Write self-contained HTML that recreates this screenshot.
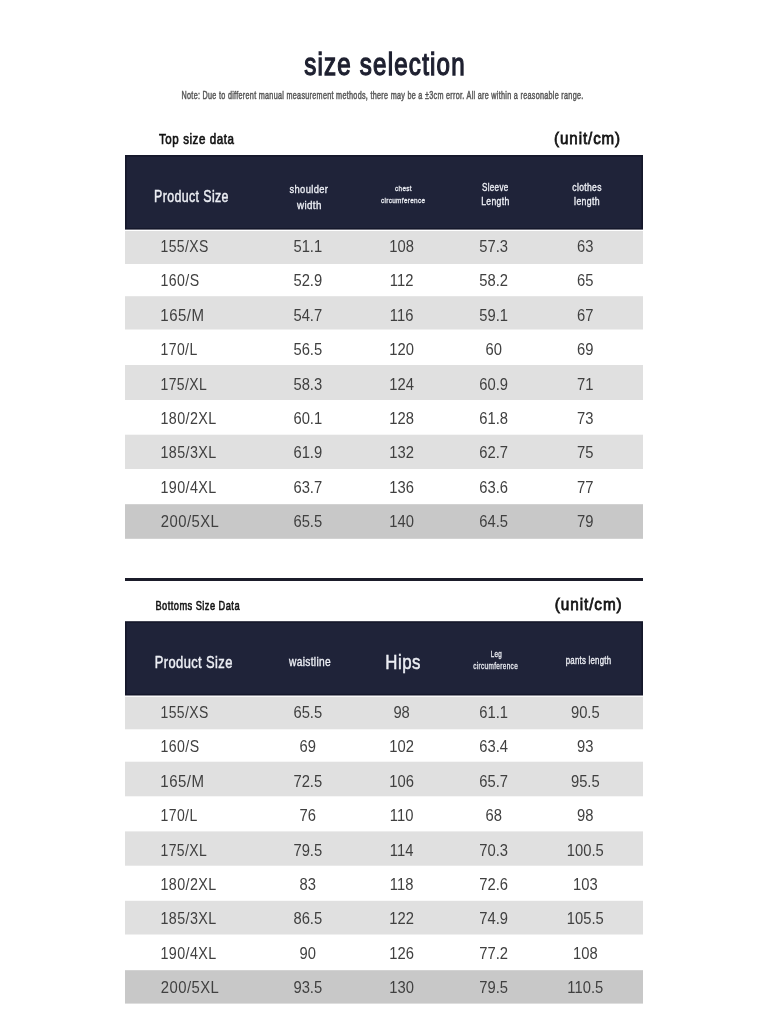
<!DOCTYPE html><html><head><meta charset="utf-8"><style>html,body{margin:0;padding:0;background:#fff;width:768px;height:1024px;overflow:hidden}svg{display:block;will-change:transform}text{font-family:"Liberation Sans",sans-serif}</style></head><body>
<svg width="768" height="1024" viewBox="0 0 768 1024">
<rect x="0" y="0" width="768" height="1024" fill="#ffffff"/>
<rect x="125" y="155.00" width="518.00" height="74.60" fill="#14172a"/>
<rect x="126.6" y="156.60" width="514.80" height="71.40" fill="#1f2339"/>
<rect x="125" y="231.00" width="518.00" height="33.00" fill="#e0e0e0"/>
<rect x="125" y="296.20" width="518.00" height="33.30" fill="#e0e0e0"/>
<rect x="125" y="365.00" width="518.00" height="35.00" fill="#e0e0e0"/>
<rect x="125" y="434.70" width="518.00" height="34.30" fill="#e0e0e0"/>
<rect x="125" y="504.20" width="518.00" height="34.60" fill="#c8c8c8"/>
<rect x="125" y="578.00" width="518.00" height="3.00" fill="#1b1c2a"/>
<rect x="125" y="621.20" width="518.00" height="74.30" fill="#14172a"/>
<rect x="126.6" y="622.80" width="514.80" height="71.10" fill="#1f2339"/>
<rect x="125" y="696.80" width="518.00" height="32.50" fill="#e0e0e0"/>
<rect x="125" y="761.70" width="518.00" height="34.60" fill="#e0e0e0"/>
<rect x="125" y="831.40" width="518.00" height="34.30" fill="#e0e0e0"/>
<rect x="125" y="900.80" width="518.00" height="33.70" fill="#e0e0e0"/>
<rect x="125" y="970.20" width="518.00" height="33.40" fill="#c8c8c8"/>
<text transform="translate(304.17,75.03) scale(0.7862,1)" font-size="30.69" fill="#1e2030" stroke="#1e2030" stroke-width="1.350" letter-spacing="1.534">size selection</text>
<text transform="translate(181.55,98.78) scale(0.6946,1)" font-size="10.41" fill="#555555" stroke="#555555" stroke-width="0.450" letter-spacing="0.417">Note: Due to different manual measurement methods, there may be a ±3cm error. All are within a reasonable range.</text>
<text transform="translate(159.02,143.85) scale(0.7975,1)" font-size="14.48" fill="#141414" stroke="#141414" stroke-width="0.700" letter-spacing="0.724">Top size data</text>
<text transform="translate(554.09,143.96) scale(0.8730,1)" font-size="17.33" fill="#141414" stroke="#141414" stroke-width="0.800" letter-spacing="1.040">(unit/cm)</text>
<text transform="translate(154.03,202.08) scale(0.7603,1)" font-size="16.34" fill="#eceef4" stroke="#eceef4" stroke-width="0.450" letter-spacing="0.490">Product Size</text>
<text transform="translate(289.44,193.22) scale(0.8221,1)" font-size="11.38" fill="#eceef4" stroke="#eceef4" stroke-width="0.350" letter-spacing="0.455">shoulder</text>
<text transform="translate(297.02,208.82) scale(0.9034,1)" font-size="10.83" fill="#eceef4" stroke="#eceef4" stroke-width="0.350" letter-spacing="0.433">width</text>
<text transform="translate(395.10,191.15) scale(0.8233,1)" font-size="7.72" fill="#eceef4" stroke="#eceef4" stroke-width="0.300" letter-spacing="0.386">chest</text>
<text transform="translate(380.99,202.65) scale(0.8086,1)" font-size="7.93" fill="#eceef4" stroke="#eceef4" stroke-width="0.300" letter-spacing="0.397">circumference</text>
<text transform="translate(481.91,191.42) scale(0.7871,1)" font-size="10.28" fill="#eceef4" stroke="#eceef4" stroke-width="0.350" letter-spacing="0.411">Sleeve</text>
<text transform="translate(481.18,205.12) scale(0.8413,1)" font-size="10.28" fill="#eceef4" stroke="#eceef4" stroke-width="0.350" letter-spacing="0.411">Length</text>
<text transform="translate(572.33,191.42) scale(0.8335,1)" font-size="10.28" fill="#eceef4" stroke="#eceef4" stroke-width="0.350" letter-spacing="0.411">clothes</text>
<text transform="translate(574.11,205.12) scale(0.8502,1)" font-size="10.28" fill="#eceef4" stroke="#eceef4" stroke-width="0.350" letter-spacing="0.411">length</text>
<text transform="translate(155.46,609.70) scale(0.7387,1)" font-size="12.55" fill="#141414" stroke="#141414" stroke-width="0.600" letter-spacing="0.628">Bottoms Size Data</text>
<text transform="translate(554.78,610.38) scale(0.8900,1)" font-size="17.22" fill="#141414" stroke="#141414" stroke-width="0.800" letter-spacing="1.033">(unit/cm)</text>
<text transform="translate(154.79,668.17) scale(0.8192,1)" font-size="15.79" fill="#eceef4" stroke="#eceef4" stroke-width="0.450" letter-spacing="0.474">Product Size</text>
<text transform="translate(289.03,665.93) scale(0.8560,1)" font-size="11.93" fill="#eceef4" stroke="#eceef4" stroke-width="0.350" letter-spacing="0.358">waistline</text>
<text transform="translate(385.30,668.55) scale(0.8093,1)" font-size="20.83" fill="#eceef4" stroke="#eceef4" stroke-width="0.500" letter-spacing="0.625">Hips</text>
<text transform="translate(490.65,657.05) scale(0.7208,1)" font-size="8.70" fill="#eceef4" stroke="#eceef4" stroke-width="0.300" letter-spacing="0.435">Leg</text>
<text transform="translate(473.19,668.85) scale(0.6767,1)" font-size="9.59" fill="#eceef4" stroke="#eceef4" stroke-width="0.300" letter-spacing="0.479">circumference</text>
<text transform="translate(565.70,663.62) scale(0.7545,1)" font-size="10.41" fill="#eceef4" stroke="#eceef4" stroke-width="0.350" letter-spacing="0.312">pants length</text>
<text transform="translate(160.45,252.00) scale(0.8789,1)" font-size="15.9" fill="#404040" letter-spacing="0.477">155/XS</text>
<text transform="translate(307.80,252.00) scale(0.93,1)" font-size="15.9" fill="#404040" text-anchor="middle">51.1</text>
<text transform="translate(401.60,252.00) scale(0.93,1)" font-size="15.9" fill="#404040" text-anchor="middle">108</text>
<text transform="translate(493.70,252.00) scale(0.93,1)" font-size="15.9" fill="#404040" text-anchor="middle">57.3</text>
<text transform="translate(585.30,252.00) scale(0.93,1)" font-size="15.9" fill="#404040" text-anchor="middle">63</text>
<text transform="translate(160.44,286.38) scale(0.8894,1)" font-size="15.9" fill="#404040" letter-spacing="0.477">160/S</text>
<text transform="translate(307.80,286.38) scale(0.93,1)" font-size="15.9" fill="#404040" text-anchor="middle">52.9</text>
<text transform="translate(401.60,286.38) scale(0.93,1)" font-size="15.9" fill="#404040" text-anchor="middle">112</text>
<text transform="translate(493.70,286.38) scale(0.93,1)" font-size="15.9" fill="#404040" text-anchor="middle">58.2</text>
<text transform="translate(585.30,286.38) scale(0.93,1)" font-size="15.9" fill="#404040" text-anchor="middle">65</text>
<text transform="translate(160.37,320.75) scale(0.9458,1)" font-size="15.9" fill="#404040" letter-spacing="0.477">165/M</text>
<text transform="translate(307.80,320.75) scale(0.93,1)" font-size="15.9" fill="#404040" text-anchor="middle">54.7</text>
<text transform="translate(401.60,320.75) scale(0.93,1)" font-size="15.9" fill="#404040" text-anchor="middle">116</text>
<text transform="translate(493.70,320.75) scale(0.93,1)" font-size="15.9" fill="#404040" text-anchor="middle">59.1</text>
<text transform="translate(585.30,320.75) scale(0.93,1)" font-size="15.9" fill="#404040" text-anchor="middle">67</text>
<text transform="translate(160.45,355.12) scale(0.8823,1)" font-size="15.9" fill="#404040" letter-spacing="0.477">170/L</text>
<text transform="translate(307.80,355.12) scale(0.93,1)" font-size="15.9" fill="#404040" text-anchor="middle">56.5</text>
<text transform="translate(401.60,355.12) scale(0.93,1)" font-size="15.9" fill="#404040" text-anchor="middle">120</text>
<text transform="translate(493.70,355.12) scale(0.93,1)" font-size="15.9" fill="#404040" text-anchor="middle">60</text>
<text transform="translate(585.30,355.12) scale(0.93,1)" font-size="15.9" fill="#404040" text-anchor="middle">69</text>
<text transform="translate(160.45,389.50) scale(0.8788,1)" font-size="15.9" fill="#404040" letter-spacing="0.477">175/XL</text>
<text transform="translate(307.80,389.50) scale(0.93,1)" font-size="15.9" fill="#404040" text-anchor="middle">58.3</text>
<text transform="translate(401.60,389.50) scale(0.93,1)" font-size="15.9" fill="#404040" text-anchor="middle">124</text>
<text transform="translate(493.70,389.50) scale(0.93,1)" font-size="15.9" fill="#404040" text-anchor="middle">60.9</text>
<text transform="translate(585.30,389.50) scale(0.93,1)" font-size="15.9" fill="#404040" text-anchor="middle">71</text>
<text transform="translate(160.43,423.88) scale(0.9005,1)" font-size="15.9" fill="#404040" letter-spacing="0.477">180/2XL</text>
<text transform="translate(307.80,423.88) scale(0.93,1)" font-size="15.9" fill="#404040" text-anchor="middle">60.1</text>
<text transform="translate(401.60,423.88) scale(0.93,1)" font-size="15.9" fill="#404040" text-anchor="middle">128</text>
<text transform="translate(493.70,423.88) scale(0.93,1)" font-size="15.9" fill="#404040" text-anchor="middle">61.8</text>
<text transform="translate(585.30,423.88) scale(0.93,1)" font-size="15.9" fill="#404040" text-anchor="middle">73</text>
<text transform="translate(160.43,458.25) scale(0.9005,1)" font-size="15.9" fill="#404040" letter-spacing="0.477">185/3XL</text>
<text transform="translate(307.80,458.25) scale(0.93,1)" font-size="15.9" fill="#404040" text-anchor="middle">61.9</text>
<text transform="translate(401.60,458.25) scale(0.93,1)" font-size="15.9" fill="#404040" text-anchor="middle">132</text>
<text transform="translate(493.70,458.25) scale(0.93,1)" font-size="15.9" fill="#404040" text-anchor="middle">62.7</text>
<text transform="translate(585.30,458.25) scale(0.93,1)" font-size="15.9" fill="#404040" text-anchor="middle">75</text>
<text transform="translate(160.43,492.62) scale(0.9005,1)" font-size="15.9" fill="#404040" letter-spacing="0.477">190/4XL</text>
<text transform="translate(307.80,492.62) scale(0.93,1)" font-size="15.9" fill="#404040" text-anchor="middle">63.7</text>
<text transform="translate(401.60,492.62) scale(0.93,1)" font-size="15.9" fill="#404040" text-anchor="middle">136</text>
<text transform="translate(493.70,492.62) scale(0.93,1)" font-size="15.9" fill="#404040" text-anchor="middle">63.6</text>
<text transform="translate(585.30,492.62) scale(0.93,1)" font-size="15.9" fill="#404040" text-anchor="middle">77</text>
<text transform="translate(160.76,527.00) scale(0.9357,1)" font-size="15.9" fill="#404040" letter-spacing="0.477">200/5XL</text>
<text transform="translate(307.80,527.00) scale(0.93,1)" font-size="15.9" fill="#404040" text-anchor="middle">65.5</text>
<text transform="translate(401.60,527.00) scale(0.93,1)" font-size="15.9" fill="#404040" text-anchor="middle">140</text>
<text transform="translate(493.70,527.00) scale(0.93,1)" font-size="15.9" fill="#404040" text-anchor="middle">64.5</text>
<text transform="translate(585.30,527.00) scale(0.93,1)" font-size="15.9" fill="#404040" text-anchor="middle">79</text>
<text transform="translate(160.45,717.90) scale(0.8789,1)" font-size="15.9" fill="#404040" letter-spacing="0.477">155/XS</text>
<text transform="translate(307.80,717.90) scale(0.93,1)" font-size="15.9" fill="#404040" text-anchor="middle">65.5</text>
<text transform="translate(401.60,717.90) scale(0.93,1)" font-size="15.9" fill="#404040" text-anchor="middle">98</text>
<text transform="translate(493.70,717.90) scale(0.93,1)" font-size="15.9" fill="#404040" text-anchor="middle">61.1</text>
<text transform="translate(585.30,717.90) scale(0.93,1)" font-size="15.9" fill="#404040" text-anchor="middle">90.5</text>
<text transform="translate(160.44,752.32) scale(0.8894,1)" font-size="15.9" fill="#404040" letter-spacing="0.477">160/S</text>
<text transform="translate(307.80,752.32) scale(0.93,1)" font-size="15.9" fill="#404040" text-anchor="middle">69</text>
<text transform="translate(401.60,752.32) scale(0.93,1)" font-size="15.9" fill="#404040" text-anchor="middle">102</text>
<text transform="translate(493.70,752.32) scale(0.93,1)" font-size="15.9" fill="#404040" text-anchor="middle">63.4</text>
<text transform="translate(585.30,752.32) scale(0.93,1)" font-size="15.9" fill="#404040" text-anchor="middle">93</text>
<text transform="translate(160.37,786.75) scale(0.9458,1)" font-size="15.9" fill="#404040" letter-spacing="0.477">165/M</text>
<text transform="translate(307.80,786.75) scale(0.93,1)" font-size="15.9" fill="#404040" text-anchor="middle">72.5</text>
<text transform="translate(401.60,786.75) scale(0.93,1)" font-size="15.9" fill="#404040" text-anchor="middle">106</text>
<text transform="translate(493.70,786.75) scale(0.93,1)" font-size="15.9" fill="#404040" text-anchor="middle">65.7</text>
<text transform="translate(585.30,786.75) scale(0.93,1)" font-size="15.9" fill="#404040" text-anchor="middle">95.5</text>
<text transform="translate(160.45,821.17) scale(0.8823,1)" font-size="15.9" fill="#404040" letter-spacing="0.477">170/L</text>
<text transform="translate(307.80,821.17) scale(0.93,1)" font-size="15.9" fill="#404040" text-anchor="middle">76</text>
<text transform="translate(401.60,821.17) scale(0.93,1)" font-size="15.9" fill="#404040" text-anchor="middle">110</text>
<text transform="translate(493.70,821.17) scale(0.93,1)" font-size="15.9" fill="#404040" text-anchor="middle">68</text>
<text transform="translate(585.30,821.17) scale(0.93,1)" font-size="15.9" fill="#404040" text-anchor="middle">98</text>
<text transform="translate(160.45,855.60) scale(0.8788,1)" font-size="15.9" fill="#404040" letter-spacing="0.477">175/XL</text>
<text transform="translate(307.80,855.60) scale(0.93,1)" font-size="15.9" fill="#404040" text-anchor="middle">79.5</text>
<text transform="translate(401.60,855.60) scale(0.93,1)" font-size="15.9" fill="#404040" text-anchor="middle">114</text>
<text transform="translate(493.70,855.60) scale(0.93,1)" font-size="15.9" fill="#404040" text-anchor="middle">70.3</text>
<text transform="translate(585.30,855.60) scale(0.93,1)" font-size="15.9" fill="#404040" text-anchor="middle">100.5</text>
<text transform="translate(160.43,890.02) scale(0.9005,1)" font-size="15.9" fill="#404040" letter-spacing="0.477">180/2XL</text>
<text transform="translate(307.80,890.02) scale(0.93,1)" font-size="15.9" fill="#404040" text-anchor="middle">83</text>
<text transform="translate(401.60,890.02) scale(0.93,1)" font-size="15.9" fill="#404040" text-anchor="middle">118</text>
<text transform="translate(493.70,890.02) scale(0.93,1)" font-size="15.9" fill="#404040" text-anchor="middle">72.6</text>
<text transform="translate(585.30,890.02) scale(0.93,1)" font-size="15.9" fill="#404040" text-anchor="middle">103</text>
<text transform="translate(160.43,924.45) scale(0.9005,1)" font-size="15.9" fill="#404040" letter-spacing="0.477">185/3XL</text>
<text transform="translate(307.80,924.45) scale(0.93,1)" font-size="15.9" fill="#404040" text-anchor="middle">86.5</text>
<text transform="translate(401.60,924.45) scale(0.93,1)" font-size="15.9" fill="#404040" text-anchor="middle">122</text>
<text transform="translate(493.70,924.45) scale(0.93,1)" font-size="15.9" fill="#404040" text-anchor="middle">74.9</text>
<text transform="translate(585.30,924.45) scale(0.93,1)" font-size="15.9" fill="#404040" text-anchor="middle">105.5</text>
<text transform="translate(160.43,958.88) scale(0.9005,1)" font-size="15.9" fill="#404040" letter-spacing="0.477">190/4XL</text>
<text transform="translate(307.80,958.88) scale(0.93,1)" font-size="15.9" fill="#404040" text-anchor="middle">90</text>
<text transform="translate(401.60,958.88) scale(0.93,1)" font-size="15.9" fill="#404040" text-anchor="middle">126</text>
<text transform="translate(493.70,958.88) scale(0.93,1)" font-size="15.9" fill="#404040" text-anchor="middle">77.2</text>
<text transform="translate(585.30,958.88) scale(0.93,1)" font-size="15.9" fill="#404040" text-anchor="middle">108</text>
<text transform="translate(160.76,993.30) scale(0.9357,1)" font-size="15.9" fill="#404040" letter-spacing="0.477">200/5XL</text>
<text transform="translate(307.80,993.30) scale(0.93,1)" font-size="15.9" fill="#404040" text-anchor="middle">93.5</text>
<text transform="translate(401.60,993.30) scale(0.93,1)" font-size="15.9" fill="#404040" text-anchor="middle">130</text>
<text transform="translate(493.70,993.30) scale(0.93,1)" font-size="15.9" fill="#404040" text-anchor="middle">79.5</text>
<text transform="translate(585.30,993.30) scale(0.93,1)" font-size="15.9" fill="#404040" text-anchor="middle">110.5</text>
</svg></body></html>
